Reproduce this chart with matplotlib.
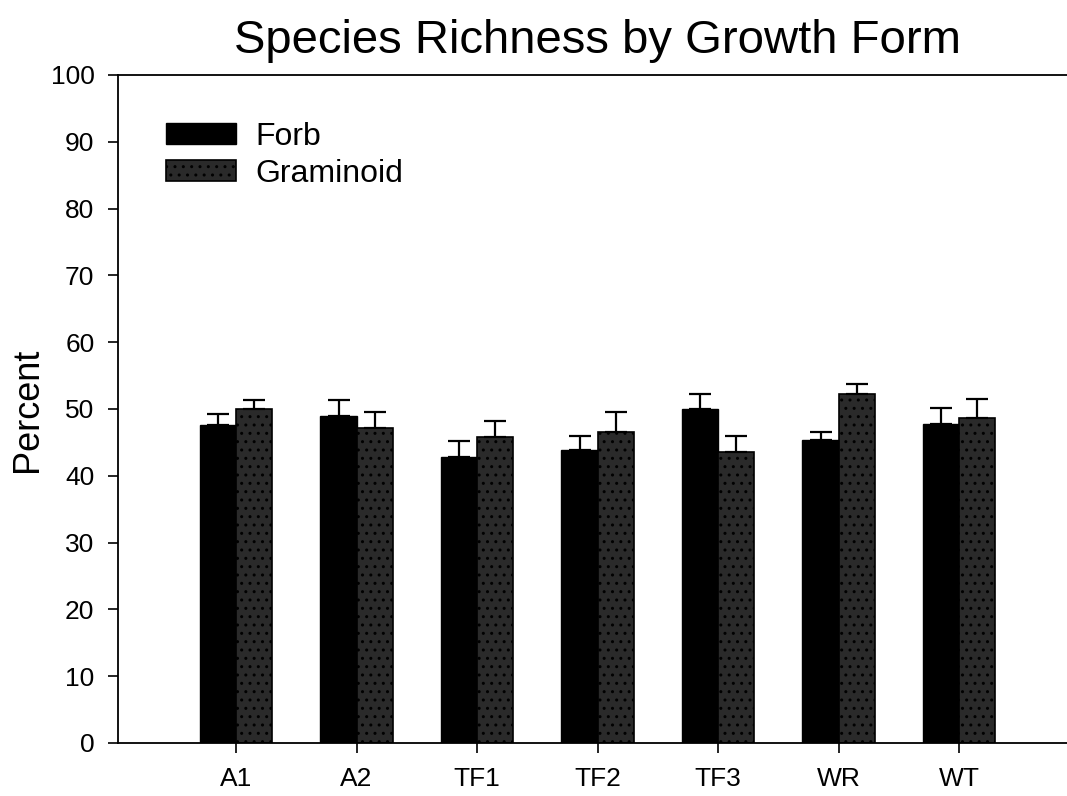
import numpy as np
import matplotlib.pyplot as plt

plt.rcParams['font.family'] = ['Liberation Sans', 'DejaVu Sans']
plt.rcParams['hatch.color'] = '#6a6a6a'

# sites and values
sites = ['A1', 'A2', 'TF1', 'TF2', 'TF3', 'WR', 'WT']
forb = [47.6, 49.0, 42.8, 43.9, 50.0, 45.3, 47.8]
forb_err = [1.6, 2.3, 2.4, 2.1, 2.2, 1.3, 2.4]
gram = [50.0, 47.2, 45.8, 46.5, 43.5, 52.2, 48.7]
gram_err = [1.3, 2.4, 2.4, 3.1, 2.4, 1.5, 2.8]

fig = plt.figure(figsize=(10.67, 7.96), dpi=100)
# axes runs off the right edge like in the original scan
ax = fig.add_axes([118/1067, 53/796, 960/1067, 668/796])

x = np.arange(len(sites))
w = 0.3
ekw = dict(ecolor='black', elinewidth=1.6, capsize=8, capthick=1.6)

ax.bar(x - w/2, forb, w, color='black', edgecolor='black', label='Forb',
       yerr=[np.zeros(len(x)), forb_err], error_kw=ekw, zorder=2)
ax.bar(x + w/2, gram, w, color='#2a2a2a', edgecolor='black', linewidth=1.2,
       label='Graminoid', yerr=[np.zeros(len(x)), gram_err], error_kw=ekw,
       hatch='..', zorder=2)

ax.set_xlim(-0.98, -0.98 + 960/120.5)
ax.set_ylim(0, 100)
ax.set_yticks(np.arange(0, 101, 10))
ax.set_xticks(x)
ax.set_xticklabels(sites)
ax.tick_params(axis='both', direction='out', length=7, width=1.2, labelsize=19, pad=10)
ax.spines['right'].set_visible(False)
for s in ['left', 'bottom', 'top']:
    ax.spines[s].set_linewidth(1.3)

fig.text(28/1067, 1 - 410/796, 'Percent', fontsize=26, rotation=90,
         ha='center', va='center')
fig.text(598/1067, 1 - 41/796, 'Species Richness by Growth Form', fontsize=34,
         ha='center', va='center')

ax.legend(loc='upper left', bbox_to_anchor=(0.05, 0.93), frameon=False,
          fontsize=23, handlelength=2.2, handleheight=0.65, labelspacing=0.22,
          borderpad=0, borderaxespad=0, handletextpad=0.6)

plt.savefig('out.png', dpi=100)
